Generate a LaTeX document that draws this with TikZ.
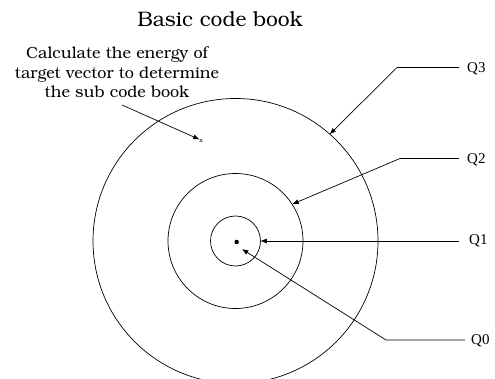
\documentclass[tikz,border=0pt]{standalone}
\usepackage[T1]{fontenc}
\usepackage{fontspec}
\newfontfamily\qfont{Liberation Serif}
\usetikzlibrary{arrows.meta}
\newcommand{\bkfont}{\fontencoding{T1}\fontfamily{pbk}\selectfont}
\tikzset{
  arr/.style={-{Triangle[length=6pt,width=4.5pt]}, line width=0.7pt},
  ring/.style={circle, draw, line width=0.7pt, inner sep=0pt},
  qlab/.style={anchor=west, inner sep=0pt, font=\qfont\fontsize{15}{17}\selectfont},
}
\begin{document}
\begin{tikzpicture}[x=1pt,y=-1pt]
\useasboundingbox (0,0) rectangle (495,379);
\clip (0,0) rectangle (495,379);
% title
\node[font=\bkfont\fontsize{21}{24}\selectfont, anchor=base] (title) at (220,27) {Basic code book};
% annotation
\node[font=\bkfont\fontsize{16.2}{19.5}\selectfont, align=center, anchor=base] (ann) at (117,98) {Calculate the energy of\\target vector to determine\\the sub code book};
% circles
\node[ring, minimum size=285pt] (c3) at (235.5,241) {};
\node[ring, minimum size=135pt] (c2) at (235.5,241) {};
\node[ring, minimum size=50pt] (c1) at (235.5,241) {};
\node[circle, fill, inner sep=0pt, minimum size=4.5pt] (dot) at (236.7,242) {};
\node[inner sep=0pt, font=\bkfont\fontsize{6}{7}\selectfont] (xm) at (201,141) {x};
% annotation arrow
\coordinate (a0) at (122,105);
\draw[arr] (a0) -- (xm.north west);
% labels
\node[qlab] (Q3) at (467,69) {Q3};
\node[qlab] (Q2) at (467,160) {Q2};
\node[qlab] (Q1) at (469,241) {Q1};
\node[qlab] (Q0) at (471,341) {Q0};
\coordinate (k3) at (397,67.5);
\coordinate (k2) at (400,158.5);
\coordinate (k0) at (386,340);
\coordinate (t3) at (330,134);
\coordinate (t2) at (292.7,204);
\coordinate (t0) at (242.3,249.3);
\draw[arr] (459,67.5) -- (k3) -- (t3);
\draw[arr] (459,158.5) -- (k2) -- (t2);
\draw[arr] (459,241) -- (c1.east);
\draw[arr] (465,340) -- (k0) -- (t0);
\end{tikzpicture}
\end{document}
